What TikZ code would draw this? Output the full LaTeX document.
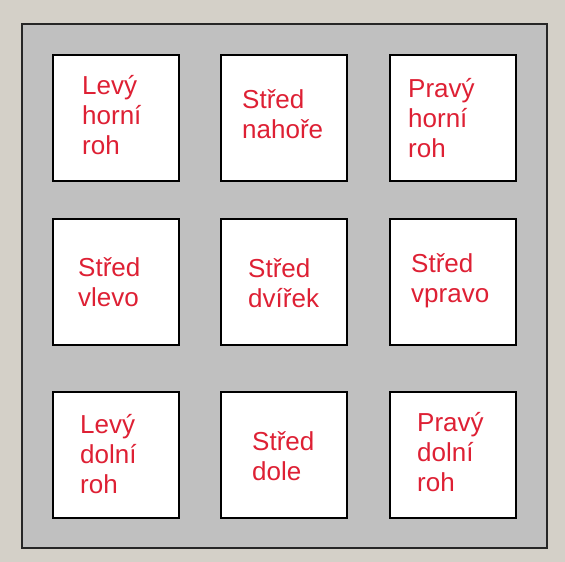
\documentclass[tikz,border=0pt]{standalone}
\usepackage{fontspec}
\setmainfont{Liberation Sans}
\definecolor{okno}{RGB}{212,208,200}
\definecolor{dvirka}{RGB}{192,192,192}
\definecolor{popis}{RGB}{222,32,52}

\begin{document}
\begin{tikzpicture}[x=1pt, y=-1pt,
    pole/.style={draw=black, line width=1.8pt, fill=white, minimum size=126pt, inner sep=0pt, anchor=north west},
    napis/.style={text=popis, font=\fontsize{26}{30}\selectfont, align=left, anchor=base west, inner sep=0pt}]

    % 1. Pozadi okna a ram dvirek
    \fill[okno] (0,0) rectangle (565,562);
    \node[draw=black!85, line width=1.8pt, fill=dvirka, minimum width=525pt, minimum height=524pt, inner sep=0pt, anchor=north west] (ram) at (21,23) {};

    % 2. Pole (horni, stredni a dolni rada)
    \node[pole] (lho) at (52,54) {};
    \node[pole] (sna) at (220,54) {};
    \node[pole] (pho) at (389,54) {};
    \node[pole] (svl) at (52,218) {};
    \node[pole] (sdv) at (220,218) {};
    \node[pole] (svp) at (389,218) {};
    \node[pole] (ldo) at (52,391) {};
    \node[pole] (sdo) at (220,391) {};
    \node[pole] (pdo) at (389,391) {};

    % 3. Popisky (kotva = uctari posledniho radku)
    \node[napis] (tlho) at (82,154) {Levý\\horní\\roh};
    \node[napis] (tsna) at (242,138) {Střed\\nahoře};
    \node[napis] (tpho) at (408,157) {Pravý\\horní\\roh};
    \node[napis] (tsvl) at (78,306) {Střed\\vlevo};
    \node[napis] (tsdv) at (248,307) {Střed\\dvířek};
    \node[napis] (tsvp) at (411,302) {Střed\\vpravo};
    \node[napis] (tldo) at (80,493) {Levý\\dolní\\roh};
    \node[napis] (tsdo) at (252,480) {Střed\\dole};
    \node[napis] (tpdo) at (417,491) {Pravý\\dolní\\roh};

    \useasboundingbox (0,0) rectangle (565,562);

\end{tikzpicture}
\end{document}
